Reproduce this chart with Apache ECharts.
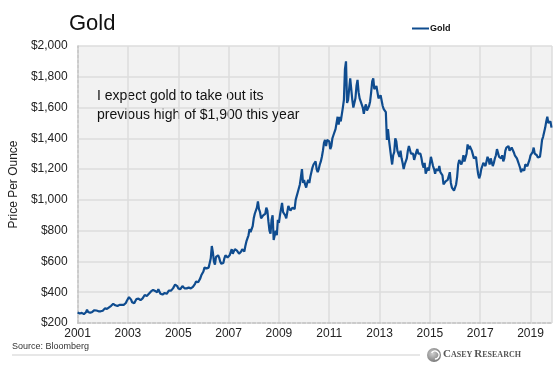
<!DOCTYPE html>
<html>
<head>
<meta charset="utf-8">
<script src="https://cdn.jsdelivr.net/npm/echarts@6/dist/echarts.min.js"></script>
<style>
html,body{margin:0;padding:0;background:#fff;}
#c{width:560px;height:387px;}
</style>
</head>
<body>
<div id="c"></div>
<script>
// Semi-monthly gold price estimates (USD/oz), 24 per year
const years = [2001,2002,2003,2004,2005,2006,2007,2008,2009,2010,2011,2012,2013,2014,2015,2016,2017,2018,2019];
const y2001 = [268,264,262,258,266,262,258,263,270,286,272,270,266,268,272,276,283,290,281,278,276,274,276,278];
const y2002 = [280,282,295,298,292,296,302,305,312,322,325,318,315,305,310,312,318,322,318,315,318,320,330,345];
const y2003 = [355,368,375,352,335,330,328,330,355,365,358,348,348,360,360,370,382,385,375,385,390,395,405,415];
const y2004 = [415,405,408,400,400,420,420,390,380,385,392,395,400,390,400,410,405,410,420,425,435,450,445,440];
const y2005 = [425,420,420,430,440,430,425,430,425,420,430,440,425,425,435,445,455,470,470,465,470,490,510,510];
const y2006 = [535,560,570,555,550,560,590,620,700,660,600,580,630,640,640,625,600,585,580,590,620,640,630,625];
const y2007 = [620,640,660,680,650,660,680,690,670,660,650,650,665,680,670,665,700,730,750,770,810,790,800,830];
const y2008 = [880,910,920,950,990,940,920,880,880,900,890,910,950,930,860,800,780,870,900,740,730,800,770,870];
const y2009 = [850,900,940,980,920,920,900,880,920,960,950,930,920,950,950,940,1000,1010,1050,1050,1100,1150,1200,1110];
const y2010 = [1130,1100,1080,1110,1130,1110,1150,1160,1210,1230,1230,1250,1200,1180,1200,1230,1250,1280,1320,1370,1390,1350,1390,1400];
const y2011 = [1380,1330,1350,1400,1420,1430,1460,1500,1540,1490,1540,1510,1500,1600,1650,1850,1900,1630,1650,1720,1790,1720,1650,1600];
const y2012 = [1600,1660,1740,1780,1700,1660,1640,1650,1600,1560,1600,1620,1580,1590,1610,1640,1700,1770,1790,1720,1720,1740,1700,1660];
const y2013 = [1660,1680,1670,1610,1590,1600,1570,1390,1460,1390,1390,1280,1230,1290,1310,1400,1380,1320,1320,1280,1320,1270,1240,1200];
const y2014 = [1230,1250,1270,1320,1350,1340,1300,1290,1300,1260,1270,1310,1330,1300,1290,1300,1270,1230,1210,1240,1170,1190,1210,1190];
const y2015 = [1190,1280,1270,1220,1200,1170,1200,1200,1190,1220,1180,1180,1160,1100,1090,1120,1130,1130,1140,1180,1110,1080,1070,1060];
const y2016 = [1080,1100,1150,1230,1260,1250,1230,1250,1290,1250,1240,1300,1360,1330,1350,1340,1320,1330,1270,1260,1280,1220,1170,1140];
const y2017 = [1160,1200,1220,1240,1230,1220,1250,1280,1260,1230,1270,1260,1220,1240,1270,1290,1330,1320,1280,1280,1270,1290,1250,1270];
const y2018 = [1320,1340,1330,1350,1320,1330,1340,1330,1310,1290,1300,1270,1250,1230,1210,1180,1200,1200,1190,1230,1230,1220,1240,1260];
const y2019 = [1290,1290,1310,1340,1300,1310,1290,1275,1280,1280,1330,1390,1410,1420,1470,1510,1540,1500,1490,1510,1470];
const yearly = [y2001,y2002,y2003,y2004,y2005,y2006,y2007,y2008,y2009,y2010,y2011,y2012,y2013,y2014,y2015,y2016,y2017,y2018,y2019];
const yTicks = [200,400,600,800,1000,1200,1400,1600,1800,2000];
const xTicks = [2001,2003,2005,2007,2009,2011,2013,2015,2017,2019];

const data = [];
years.forEach((yr, k) => {
  yearly[k].forEach((v, i) => data.push([yr + i / 24, v]));
});
const xMax = data[data.length - 1][0] + 0.02;

const F = 'Liberation Sans, Arial, sans-serif';
const chart = echarts.init(document.getElementById('c'), null, {renderer: 'canvas'});
chart.setOption({
  animation: false,
  backgroundColor: '#ffffff',
  title: {
    text: 'Gold', left: 64, top: 8,
    textStyle: {fontFamily: F, fontSize: 22, fontWeight: 'normal', color: '#111'}
  },
  legend: {
    data: [{name: 'Gold', icon: 'rect'}],
    left: 412, top: 24, padding: 0, itemWidth: 17, itemHeight: 2, itemGap: 2,
    textStyle: {fontFamily: F, fontSize: 9, fontWeight: 'bold', color: '#111', padding: [0, 0, 0, -4]}
  },
  grid: {
    left: 67, right: 8, top: 46, bottom: 64,
    show: true, backgroundColor: '#f2f2f2', borderWidth: 0
  },
  xAxis: {
    type: 'value', min: 2001, max: xMax, interval: 2,
    axisLine: {show: true, lineStyle: {color: '#c4c4c4', type: [3, 2], width: 1.5}},
    axisTick: {show: false},
    splitLine: {show: true, lineStyle: {color: '#dcdcdc', width: 1.5}},
    axisLabel: {
      fontFamily: F, fontSize: 12, color: '#222', margin: 5, showMaxLabel: false,
      formatter: v => xTicks.indexOf(Math.round(v)) >= 0 && Math.abs(v - Math.round(v)) < 1e-6 ? String(Math.round(v)) : ''
    }
  },
  yAxis: {
    type: 'value', min: yTicks[0], max: yTicks[yTicks.length - 1], interval: 200,
    name: 'Price Per Ounce', nameLocation: 'middle', nameGap: 55,
    nameTextStyle: {fontFamily: F, fontSize: 12, color: '#222'},
    axisLine: {show: true, lineStyle: {color: '#c4c4c4', type: [3, 2], width: 1.5}},
    axisTick: {show: false},
    splitLine: {show: true, lineStyle: {color: '#dcdcdc', width: 1.5}},
    axisLabel: {
      fontFamily: F, fontSize: 12, color: '#222', margin: 10,
      formatter: v => '$' + v.toLocaleString('en-US')
    }
  },
  series: [{
    name: 'Gold', type: 'line', data: data, showSymbol: false, symbol: 'none',
    lineStyle: {color: '#0f4c8f', width: 2.2}, itemStyle: {color: '#0f4c8f'}
  }],
  graphic: [
    {type: 'text', left: 97, top: 87, style: {
      text: 'I expect gold to take out its\nprevious high of $1,900 this year',
      fontFamily: F, fontSize: 14, lineHeight: 19, fill: '#111'}},
    {type: 'text', left: 12, top: 342, style: {
      text: 'Source: Bloomberg', fontFamily: F, fontSize: 9, fill: '#333'}},
    {type: 'line', shape: {x1: 12, y1: 355, x2: 420, y2: 355},
      style: {stroke: '#cfcfcf', lineWidth: 1}},
    {type: 'circle', shape: {cx: 434, cy: 355, r: 7},
      style: {fill: new echarts.graphic.RadialGradient(0.4, 0.4, 0.7, [
        {offset: 0, color: '#d0d0d0'}, {offset: 1, color: '#6e6e6e'}])}},
    {type: 'arc', shape: {cx: 435, cy: 355, r: 4, startAngle: -2.6, endAngle: 1.6},
      style: {stroke: '#ffffff', lineWidth: 1.5, fill: null}},
    {type: 'text', left: 443, top: 349, style: {
      text: '{b|C}{s|ASEY }{b|R}{s|ESEARCH}',
      rich: {
        b: {fontFamily: 'Liberation Serif, Times New Roman, serif', fontSize: 11, fill: '#555', fontWeight: 'bold'},
        s: {fontFamily: 'Liberation Serif, Times New Roman, serif', fontSize: 8, fill: '#555', fontWeight: 'bold'}
      }}}
  ]
});
</script>
</body>
</html>
